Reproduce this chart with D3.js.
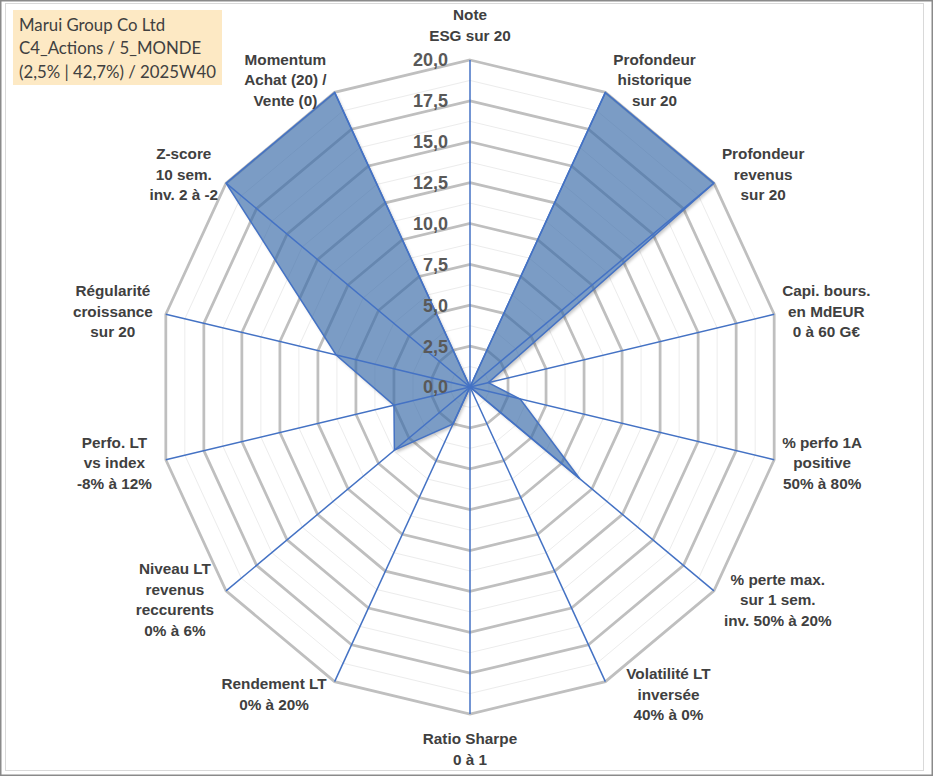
<!DOCTYPE html>
<html>
<head>
<meta charset="utf-8">
<script src="https://cdn.jsdelivr.net/npm/d3@7"></script>
<style>
  body { margin: 0; background: #fff; }
  svg { display: block; }
</style>
</head>
<body>
<svg id="chart" width="933" height="776"></svg>
<script>
(function() {

    // libellés des axes (sens horaire, en partant du haut)
    var axisLabels = [
        ["Note", "ESG sur 20"],
        ["Profondeur", "historique", "sur 20"],
        ["Profondeur", "revenus", "sur 20"],
        ["Capi. bours.", "en MdEUR", "0 à 60 G€"],
        ["% perfo 1A", "positive", "50% à 80%"],
        ["% perte max.", "sur 1 sem.", "inv. 50% à 20%"],
        ["Volatilité LT", "inversée", "40% à 0%"],
        ["Ratio Sharpe", "0 à 1"],
        ["Rendement LT", "0% à 20%"],
        ["Niveau LT", "revenus", "reccurents", "0% à 6%"],
        ["Perfo. LT", "vs index", "-8% à 12%"],
        ["Régularité", "croissance", "sur 20"],
        ["Z-score", "10 sem.", "inv. 2 à -2"],
        ["Momentum", "Achat (20) /", "Vente (0)"]
    ];

    // notes sur 20
    var scores = [0, 20, 20, 1.2, 3.3, 9.0, 0, 0, 2.5, 6.2, 5.0, 8.8, 20, 20];

    var majorTicks = [2.5, 5, 7.5, 10, 12.5, 15, 17.5, 20];
    var minorTicks = [1.25, 3.75, 6.25, 8.75, 11.25, 13.75, 16.25, 18.75];
    var tickValues = [0, 2.5, 5, 7.5, 10, 12.5, 15, 17.5, 20];
    var tickLabels = ["0,0", "2,5", "5,0", "7,5", "10,0", "12,5", "15,0", "17,5", "20,0"];

    var titleLines = ["Marui Group Co Ltd", "C4_Actions / 5_MONDE", "(2,5% | 42,7%) / 2025W40"];

    // petit décalage horizontal des libellés (placement Excel)
    var labelNudge = [0, 0, 0, 0, 0, 2, 13, 0, 0, -4, -6, -5, 0, 0];

    var W = 933, H = 776;
    var cx = 470, cy = 387;
    var RX = 312, RY = 327;   // le graphe d'origine est légèrement aplati

    var svg = d3.select("#chart");

    var r = d3.scaleLinear().domain([0, 20]).range([0, 1]);
    var angle = d3.scaleLinear().domain([0, axisLabels.length]).range([0, 2 * Math.PI]);

    function px(v, i) { return cx + r(v) * RX * Math.sin(angle(i)); }
    function py(v, i) { return cy - r(v) * RY * Math.cos(angle(i)); }

    var ring = d3.line()
        .x(function(d) { return px(d.v, d.i); })
        .y(function(d) { return py(d.v, d.i); })
        .curve(d3.curveLinearClosed);

    function ringPoints(v) {
        return axisLabels.map(function(_, i) { return {v: v, i: i}; });
    }

    var seriesPath = ring(scores.map(function(v, i) { return {v: v, i: i}; }));

    // ombre portée hors de la surface (sinon elle assombrit le remplissage transparent)
    var defs = svg.append("defs");
    defs.append("filter").attr("id", "blur")
        .attr("x", "-10%").attr("y", "-10%").attr("width", "120%").attr("height", "120%")
        .append("feGaussianBlur").attr("stdDeviation", 1.8);
    var mask = defs.append("mask").attr("id", "outside")
        .attr("maskUnits", "userSpaceOnUse")
        .attr("x", 0).attr("y", 0).attr("width", W).attr("height", H);
    mask.append("rect").attr("width", W).attr("height", H).attr("fill", "#fff");
    mask.append("path").attr("d", seriesPath).attr("fill", "#000");

    // cadre
    svg.append("rect")
        .attr("x", 0.75).attr("y", 0.75).attr("width", W - 1.5).attr("height", H - 1.5)
        .attr("fill", "#fff").attr("stroke", "#8a8a8a").attr("stroke-width", 1.5);
    svg.append("rect")
        .attr("x", 5.5).attr("y", 3.5).attr("width", 918).attr("height", 767)
        .attr("fill", "none").attr("stroke", "#d9d9d9").attr("stroke-width", 1);

    // grille
    var grid = svg.append("g");
    grid.selectAll("path.minor")
        .data(minorTicks).enter()
        .append("path").attr("class", "minor")
        .attr("d", function(v) { return ring(ringPoints(v)); })
        .attr("fill", "none").attr("stroke", "#ececec").attr("stroke-width", 1);
    grid.selectAll("path.major")
        .data(majorTicks).enter()
        .append("path").attr("class", "major")
        .attr("d", function(v) { return ring(ringPoints(v)); })
        .attr("fill", "none").attr("stroke", "#bfbfbf").attr("stroke-width", 2.75)
        .attr("stroke-linejoin", "miter");

    // série
    svg.append("g").attr("mask", "url(#outside)")
        .append("path")
        .attr("d", seriesPath)
        .attr("transform", "translate(2,2.5)")
        .attr("fill", "#000").attr("fill-opacity", 0.22)
        .attr("filter", "url(#blur)");
    svg.append("path")
        .attr("d", seriesPath)
        .attr("fill", "rgb(58,108,168)").attr("fill-opacity", 0.67)
        .attr("stroke", "#4472c4").attr("stroke-width", 1.5)
        .attr("stroke-linejoin", "miter");

    // rayons
    svg.append("g").selectAll("line")
        .data(axisLabels).enter()
        .append("line")
        .attr("x1", cx).attr("y1", cy)
        .attr("x2", function(d, i) { return px(20, i); })
        .attr("y2", function(d, i) { return py(20, i); })
        .attr("stroke", "#4472c4").attr("stroke-width", 1.5);

    // graduations
    svg.append("g").selectAll("text")
        .data(tickValues).enter()
        .append("text")
        .attr("x", cx - 22)
        .attr("y", function(v) { return py(v, 0); })
        .attr("dy", "0.36em")
        .attr("text-anchor", "end")
        .attr("font-family", "'Liberation Sans', Arial, sans-serif")
        .attr("font-weight", "bold")
        .attr("font-size", 18)
        .attr("fill", "#595959")
        .text(function(v, i) { return tickLabels[i]; });

    // libellés des axes
    var lineH = 20.5, fs = 15.3;
    var labels = svg.append("g")
        .attr("font-family", "'Liberation Sans', Arial, sans-serif")
        .attr("font-weight", "bold")
        .attr("font-size", fs)
        .attr("fill", "#404040");

    axisLabels.forEach(function(lines, i) {
        var a = angle(i), s = Math.sin(a), c = Math.cos(a);
        var ex = px(20, i), ey = py(20, i);
        var t = labels.append("text").attr("text-anchor", "middle");
        var spans = lines.map(function(l) { return t.append("tspan").text(l); });
        var wmax = d3.max(spans, function(sp) { return sp.node().getComputedTextLength(); });
        var n = lines.length, h = (n - 1) * lineH + fs;
        var mx, my;
        if (Math.abs(s) < 0.01) {
            mx = ex;
            my = ey - (c > 0 ? 1 : -1) * (h / 2 + 17);
        } else {
            mx = ex + (s > 0 ? 1 : -1) * (wmax / 2 + 8) + labelNudge[i];
            my = ey - c * 14;
        }
        spans.forEach(function(sp, k) {
            sp.attr("x", mx).attr("y", my + (k - (n - 1) / 2) * lineH + fs * 0.36);
        });
    });

    // cartouche
    var title = svg.append("g");
    title.append("rect")
        .attr("x", 13).attr("y", 10).attr("width", 209).attr("height", 75)
        .attr("fill", "#fde9c4");
    title.selectAll("text")
        .data(titleLines).enter()
        .append("text")
        .attr("x", 19)
        .attr("y", function(d, i) { return 24.5 + i * 23.7; })
        .attr("dy", "0.36em")
        .attr("font-family", "Lato, 'Liberation Sans', sans-serif")
        .attr("font-size", 16.8)
        .attr("fill", "#404040")
        .text(function(d) { return d; });

})();
</script>
</body>
</html>
